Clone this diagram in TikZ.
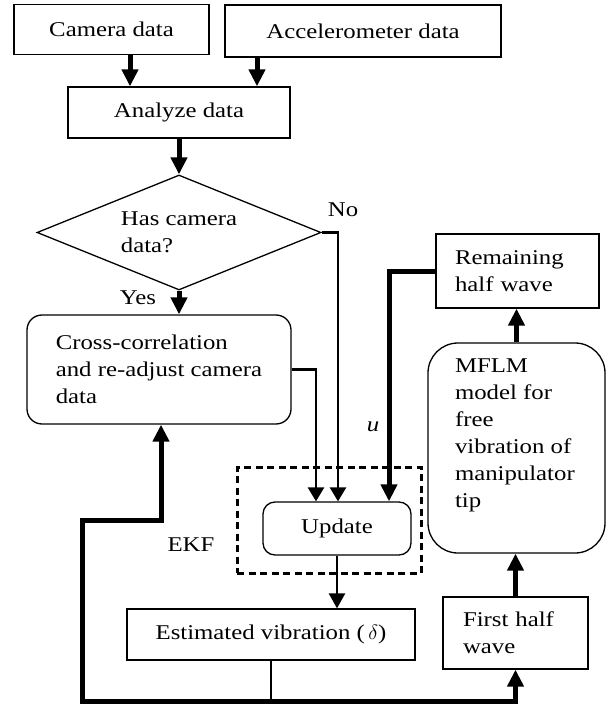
\documentclass[tikz,border=0pt]{standalone}
\usepackage{fontspec}
\setmainfont{Liberation Serif}[FakeStretch=1.18]
\usetikzlibrary{arrows.meta,shapes.geometric}

\begin{document}
\begin{tikzpicture}[x=1pt,y=-1pt,
  every node/.style={font=\fontsize{21}{27}\selectfont, inner sep=0pt},
  plainbox/.style={draw, line width=1.3pt},
  roundbox/.style={draw, line width=1.3pt, rounded corners=#1},
  thickarrow/.style={line width=5pt, -{Triangle[width=16pt,length=17pt]}},
  thinarrow/.style={line width=2.5pt, -{Triangle[width=16pt,length=14pt]}},
  midarrow/.style={line width=2.6pt, -{Triangle[width=16pt,length=15pt]}},
  midline/.style={line width=2.4pt},
  stubline/.style={line width=3.4pt},
  ekfframe/.style={draw, line width=3pt, dash pattern=on 7pt off 4.5pt}]

% canvas
\path[use as bounding box, fill=white] (0,0) rectangle (615,708);

% column / turning points for the connectors
\coordinate (cA) at (130,0);
\coordinate (cB) at (257,0);
\coordinate (cC) at (338,0);
\coordinate (cD) at (316,0);
\coordinate (cE) at (389,0);
\coordinate (junc) at (271,701);
\coordinate (fbleft) at (82,701);
\coordinate (fbturn) at (82,520);
\coordinate (fbup) at (161,520);

% blocks
\node[plainbox, minimum width=195pt, minimum height=50pt] (camera) at (111.5,29.5) {Camera data};
\node[plainbox, minimum width=276pt, minimum height=52pt] (accel) at (363,31) {Accelerometer data};
\node[plainbox, minimum width=222pt, minimum height=51pt] (analyze) at (179,112.5) {Analyze data};
\node[draw, line width=1.3pt, diamond, aspect=2.47, minimum width=284pt, minimum height=115pt, align=left] (decide) at (179,232.5) {Has camera\\data?};
\node[roundbox=15pt, minimum width=264pt, minimum height=109pt, align=left] (cross) at (159,369.5) {Cross-correlation\\and re-adjust camera\\data};
\node[plainbox, minimum height=74pt, text width=125pt, inner xsep=19pt, align=left] (remain) at (517.5,271) {Remaining\\half wave};
\node[roundbox=30pt, minimum width=177pt, minimum height=210pt] (mflm) at (516.5,448)
  {\parbox[c][179pt][t]{123pt}{\raggedright MFLM\\model for\\free\\vibration of\\manipulator\\tip}};
\node[ekfframe, minimum width=184pt, minimum height=106pt] (ekf) at (329,520) {};
\node[roundbox=12pt, minimum width=148pt, minimum height=53pt] (update) at (337,528.5) {Update};
\node[plainbox, minimum width=288pt, minimum height=51pt] (estim) at (271,634.5) {Estimated vibration (\,$\delta$)};
\node[plainbox, minimum height=72pt, text width=105pt, inner xsep=20pt, align=left] (first) at (515.5,633) {First half\\wave};

% labels
\node (ekflabel) at (191,545) {EKF};
\node (nolabel) at (343,210) {No};
\node (yeslabel) at (138,298) {Yes};
\node (ulabel) at (373,427) {\textit{u}};

% connectors
\draw[thickarrow] (camera.south -| cA) -- (analyze.north -| cA);
\draw[thickarrow] (accel.south -| cB) -- (analyze.north -| cB);
\draw[thickarrow] (analyze.south) -- (decide.north);
\draw[thickarrow] (decide.south) -- (cross.north -| decide.south);
\draw[thinarrow] (decide.east) -| (update.north -| cC);
\draw[stubline] (decide.east) -- (decide.east -| cC);
\draw[thinarrow] (cross.east) -| (update.north -| cD);
\draw[thickarrow] (remain.west) -| (update.north -| cE);
\draw[thickarrow] (mflm.north) -- (remain.south -| mflm.north);
\draw[thickarrow] (first.north) -- (mflm.south -| first.north);
\draw[midarrow] (update.south) -- (estim.north -| update.south);
\draw[midline] (estim.south) -- (junc);
\draw[thickarrow] (junc) -| (first.south);
\draw[thickarrow] (junc) -- (fbleft) -- (fbturn) -- (fbup) -- (cross.south -| fbup);
\end{tikzpicture}
\end{document}
